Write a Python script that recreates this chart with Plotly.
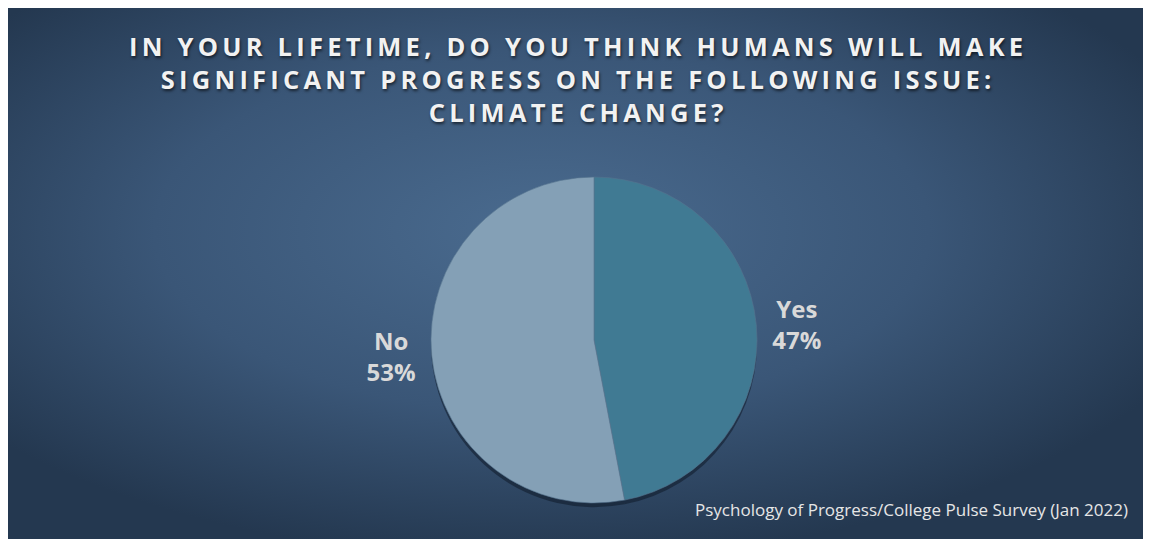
import base64
import plotly.graph_objects as go

labels = ["Yes", "No"]
values = [47, 53]
slice_colors = ["#407a93", "#84a0b6"]
title_lines = [
    "IN YOUR LIFETIME, DO YOU THINK HUMANS WILL MAKE",
    "SIGNIFICANT PROGRESS ON THE FOLLOWING ISSUE:",
    "CLIMATE CHANGE?",
]
source_text = "Psychology of Progress/College Pulse Survey (Jan 2022)"

W, H = 1136, 531

svg = f'''<svg xmlns="http://www.w3.org/2000/svg" width="{W}" height="{H}" preserveAspectRatio="none">
<defs><radialGradient id="g" cx="0.47" cy="0.42" r="0.62" gradientUnits="objectBoundingBox">
<stop offset="0" stop-color="#4a6b8f"/>
<stop offset="0.55" stop-color="#3a5677"/>
<stop offset="1" stop-color="#243850"/>
</radialGradient></defs>
<rect x="0" y="0" width="{W}" height="{H}" fill="url(#g)"/>
</svg>'''
bg_uri = "data:image/svg+xml;base64," + base64.b64encode(svg.encode()).decode()


def spaced(s):
    return "\u2009".join(list(s))


title_html = "<br>".join(spaced(t) for t in title_lines)

dom_x = [423 / W, 749 / W]
dom_y = [(H - 495) / H, (H - 169) / H]

fig = go.Figure()
# soft shadow
fig.add_trace(go.Pie(
    labels=labels, values=values, sort=False, direction="clockwise", rotation=0,
    domain=dict(x=dom_x, y=[dom_y[0] - 0.008, dom_y[1] - 0.008]),
    marker=dict(colors=["rgba(15,25,40,0.55)"] * 2, line=dict(width=0)),
    textinfo="none", hoverinfo="skip", showlegend=False,
))
fig.add_trace(go.Pie(
    labels=labels, values=values, sort=False, direction="clockwise", rotation=0,
    domain=dict(x=dom_x, y=dom_y),
    marker=dict(colors=slice_colors, line=dict(width=0.6, color="#55738f")),
    texttemplate="<b>%{label}</b><br><b>%{percent:.0%}</b>",
    textposition="outside",
    outsidetextfont=dict(family="Open Sans", size=24, color="#d9d9d9"),
    showlegend=False,
))

fig.update_layout(
    width=W, height=H,
    margin=dict(l=0, r=0, t=0, b=0),
    paper_bgcolor="#34506e",
    images=[dict(source=bg_uri, xref="paper", yref="paper", x=0, y=1,
                 sizex=1, sizey=1, sizing="stretch", layer="below",
                 xanchor="left", yanchor="top")],
    annotations=[
        dict(text="<b>" + title_html + "</b>", x=0.5, y=1 - 19 / H, xref="paper", yref="paper",
             xanchor="center", yanchor="top", showarrow=False, align="center",
             font=dict(family="Open Sans", size=25.5, color="#f2f2f2",
                       shadow="1px 2px 3px rgba(0,0,0,0.6)"),
             ),
        dict(text=source_text, x=1122 / W, y=1 - 501 / H, xref="paper", yref="paper",
             xanchor="right", yanchor="middle", showarrow=False,
             font=dict(family="Open Sans", size=17, color="#e6e6e6")),
    ],
)

fig.write_html("out.html")
